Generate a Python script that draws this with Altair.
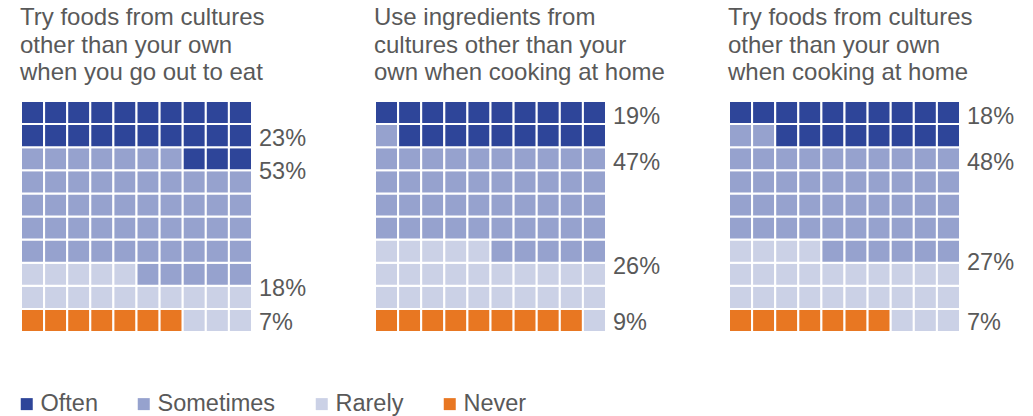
import altair as alt
import pandas as pd

# ---- data ----
panels = ["p1", "p2", "p3"]
titles = [
    ["Try foods from cultures", "other than your own", "when you go out to eat"],
    ["Use ingredients from", "cultures other than your", "own when cooking at home"],
    ["Try foods from cultures", "other than your own", "when cooking at home"],
]
categories = ["Often", "Sometimes", "Rarely", "Never"]
colors = ["#2E4599", "#96A2CE", "#CBD1E6", "#E87722"]
# cells (out of 100) per category, as drawn in the waffles
cells_p1 = [23, 52, 18, 7]
cells_p2 = [19, 46, 26, 9]
cells_p3 = [18, 48, 27, 7]
# labelled percentages
pct_p1 = ["23%", "53%", "18%", "7%"]
pct_p2 = ["19%", "47%", "26%", "9%"]
pct_p3 = ["18%", "48%", "27%", "7%"]
# vertical label anchor, in grid rows from top
lab_row_p1 = [1.6, 3.03, 8.1, 9.58]
lab_row_p2 = [0.65, 2.64, 7.15, 9.58]
lab_row_p3 = [0.65, 2.64, 6.98, 9.58]

cells_all = [cells_p1, cells_p2, cells_p3]
pct_all = [pct_p1, pct_p2, pct_p3]
rows_all = [lab_row_p1, lab_row_p2, lab_row_p3]

# ---- build tables ----
cell_rows = []
lab_rows = []
for p, counts, pcts, lrows in zip(panels, cells_all, pct_all, rows_all):
    seq = []
    # fill from bottom-left: Never, Rarely, Sometimes, Often
    for cat, n in reversed(list(zip(categories, counts))):
        seq += [cat] * n
    for i, cat in enumerate(seq):
        rb = i // 10
        c = i % 10
        cell_rows.append({"panel": p, "cat": cat, "x": c, "x2": c + 1,
                          "y": 9 - rb, "y2": 10 - rb})
    for cat, t, r in zip(categories, pcts, lrows):
        lab_rows.append({"panel": p, "cat": cat, "label": t, "x": 10, "y": r})

cells_df = pd.DataFrame(cell_rows)
labs_df = pd.DataFrame(lab_rows)

FONT = "Liberation Sans"
TXT = "#595959"
FS = 23.5

xs = alt.Scale(domain=[0, 10], nice=False, zero=False)
ys = alt.Scale(domain=[0, 10], nice=False, zero=False, reverse=True)
cs = alt.Scale(domain=categories, range=colors)


def panel(i):
    p = panels[i]
    rects = alt.Chart(cells_df).transform_filter(alt.datum.panel == p).mark_rect(
        stroke="white", strokeWidth=2
    ).encode(
        x=alt.X("x:Q", scale=xs, axis=None),
        x2="x2:Q",
        y=alt.Y("y:Q", scale=ys, axis=None),
        y2="y2:Q",
        color=alt.Color("cat:N", scale=cs, sort=categories,
                        legend=alt.Legend(title=None, orient="none", legendX=-6, legendY=291,
                                          direction="horizontal")),
    )
    labels = alt.Chart(labs_df).transform_filter(alt.datum.panel == p).mark_text(
        align="left", baseline="middle", dx=7, dy=1, fontSize=FS, font=FONT, color=TXT
    ).encode(
        x=alt.X("x:Q", scale=xs, axis=None),
        y=alt.Y("y:Q", scale=ys, axis=None),
        text="label:N",
    )
    return alt.layer(rects, labels).properties(
        width=231, height=231,
        title=alt.TitleParams(text=titles[i], anchor="start", fontSize=24, font=FONT,
                              fontWeight="normal", color=TXT, lineHeight=27.5, offset=15),
    )


chart = alt.hconcat(panel(0), panel(1), panel(2), spacing=123, bounds="flush").properties(
    padding={"left": 15, "top": 6, "right": 0, "bottom": 12},
).configure_view(stroke=None).configure_legend(
    symbolType="square", symbolSize=144, symbolStrokeWidth=0,
    labelFontSize=FS, labelFont=FONT, labelColor=TXT, labelOffset=2,
    columnPadding=34, padding=0, symbolOpacity=1,
)

chart.save("out.html", embed_options={"renderer": "svg", "actions": False})
